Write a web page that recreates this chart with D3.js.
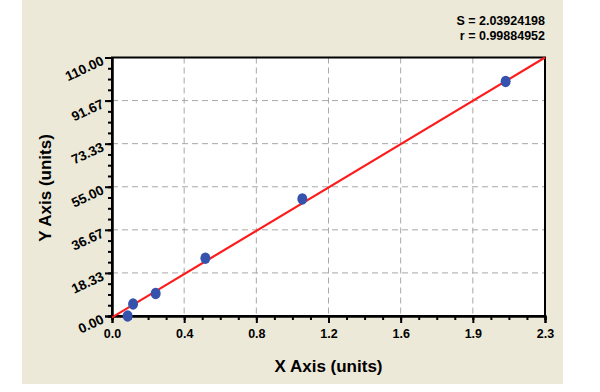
<!DOCTYPE html>
<html><head><meta charset="utf-8">
<script src="https://cdn.jsdelivr.net/npm/d3@7"></script>
<style>body{margin:0;background:#fff}svg{display:block}text{font-family:"Liberation Sans",Arial,sans-serif;font-weight:bold;fill:#000}</style>
</head><body>
<script>
const pointX = [0.083, 0.112, 0.232, 0.496, 1.011, 2.091];
const pointY = [0.0, 5.1, 9.6, 24.6, 49.8, 99.8];
const fitX = [0, 2.3];
const fitY = [-0.6, 110];
const xTickLabels = ["0.0","0.4","0.8","1.2","1.6","1.9","2.3"];
const yTickLabels = ["0.00","18.33","36.67","55.00","73.33","91.67","110.00"];
const statLines = ["S = 2.03924198", "r = 0.99884952"];
const xTitle = "X Axis (units)", yTitle = "Y Axis (units)";

const W = 600, H = 392;
const m = {l:112, r:55, t:57.5, b:76};
const svg = d3.select("body").append("svg").attr("width", W).attr("height", H);
svg.append("rect").attr("x",22).attr("y",0).attr("width",541).attr("height",384).attr("fill","#ece9d8");
const pw = W - m.l - m.r, ph = H - m.t - m.b;
const x = d3.scaleLinear().domain([0, 2.3]).range([m.l, m.l + pw]);
const y = d3.scaleLinear().domain([0, 110]).range([m.t + ph, m.t]);
svg.append("rect").attr("x",m.l).attr("y",m.t).attr("width",pw).attr("height",ph).attr("fill","#fff");

const xMajor = d3.range(7).map(i => i * 2.3 / 6);
const yMajor = d3.range(7).map(i => i * 110 / 6);
const xMinor = d3.range(25).map(i => i * 2.3 / 24);
const yMinor = d3.range(25).map(i => i * 110 / 24);

// grid
svg.append("g").selectAll("line").data(xMajor.slice(1, -1)).join("line")
  .attr("x1", d => x(d)).attr("x2", d => x(d)).attr("y1", m.t).attr("y2", m.t + ph)
  .attr("stroke", "#a8a8a8").attr("stroke-dasharray", "6,4").attr("stroke-width", 1);
svg.append("g").selectAll("line").data(yMajor.slice(1, -1)).join("line")
  .attr("y1", d => y(d)).attr("y2", d => y(d)).attr("x1", m.l).attr("x2", m.l + pw)
  .attr("stroke", "#a8a8a8").attr("stroke-dasharray", "6,4").attr("stroke-width", 1);

// frame
svg.append("rect").attr("x",m.l).attr("y",m.t).attr("width",pw).attr("height",ph)
  .attr("fill","none").attr("stroke","#000").attr("stroke-width",2);

// axes
const xMinorAxis = d3.axisBottom(x).tickValues(xMinor).tickSize(4).tickFormat("");
const xAxis = d3.axisBottom(x).tickValues(xMajor).tickSize(7).tickPadding(6).tickFormat((d,i) => xTickLabels[i]);
const yMinorAxis = d3.axisLeft(y).tickValues(yMinor).tickSize(4).tickFormat("");
const yAxis = d3.axisLeft(y).tickValues(yMajor).tickSize(7).tickPadding(4).tickFormat((d,i) => yTickLabels[i]);

function styleAxis(g){ g.select(".domain").attr("stroke","#000").attr("stroke-width",2); g.selectAll(".tick line").attr("stroke","#000").attr("stroke-width",2); }
svg.append("g").attr("transform",`translate(0,${m.t+ph})`).call(xMinorAxis).call(styleAxis);
const gx = svg.append("g").attr("transform",`translate(0,${m.t+ph})`).call(xAxis).call(styleAxis);
gx.attr("font-size",12.5).attr("font-family","Liberation Sans, Arial, sans-serif");
gx.selectAll("text").attr("font-weight","bold");
svg.append("g").attr("transform",`translate(${m.l},0)`).call(yMinorAxis).call(styleAxis);
const gy = svg.append("g").attr("transform",`translate(${m.l},0)`).call(yAxis).call(styleAxis);
gy.attr("font-size",13.5).attr("font-family","Liberation Sans, Arial, sans-serif");
gy.selectAll(".tick text").attr("font-weight","bold")
  .attr("x", -10).attr("dy", "0.5em").attr("transform", "rotate(-25,-10,0)");

// fit line
const fit = fitX.map((d,i) => [d, fitY[i]]);
svg.append("defs").append("clipPath").attr("id","clip").append("rect")
  .attr("x",m.l).attr("y",m.t-2).attr("width",pw+2).attr("height",ph+6);
svg.append("path").datum(fit).attr("clip-path","url(#clip)")
  .attr("d", d3.line().x(d => x(d[0])).y(d => y(d[1])))
  .attr("stroke","#ff1a1a").attr("stroke-width",2.2).attr("fill","none");

// points
svg.append("g").selectAll("ellipse").data(pointX.map((d,i)=>[d,pointY[i]])).join("ellipse")
  .attr("cx", d => x(d[0])).attr("cy", d => y(d[1])).attr("rx", 5).attr("ry", 5.8)
  .attr("fill", "#3553ad");

// titles
svg.append("text").attr("x", m.l + pw/2).attr("y", 372).attr("text-anchor","middle")
  .attr("font-size",17).text(xTitle);
svg.append("text").attr("transform","translate(51,188) rotate(-90)").attr("text-anchor","middle")
  .attr("font-size",17).text(yTitle);

// stats
svg.append("g").selectAll("text").data(statLines).join("text")
  .attr("x", 545).attr("y", (d,i) => 25 + i*15).attr("text-anchor","end")
  .attr("font-size",12.5).text(d => d);
</script>
</body></html>
